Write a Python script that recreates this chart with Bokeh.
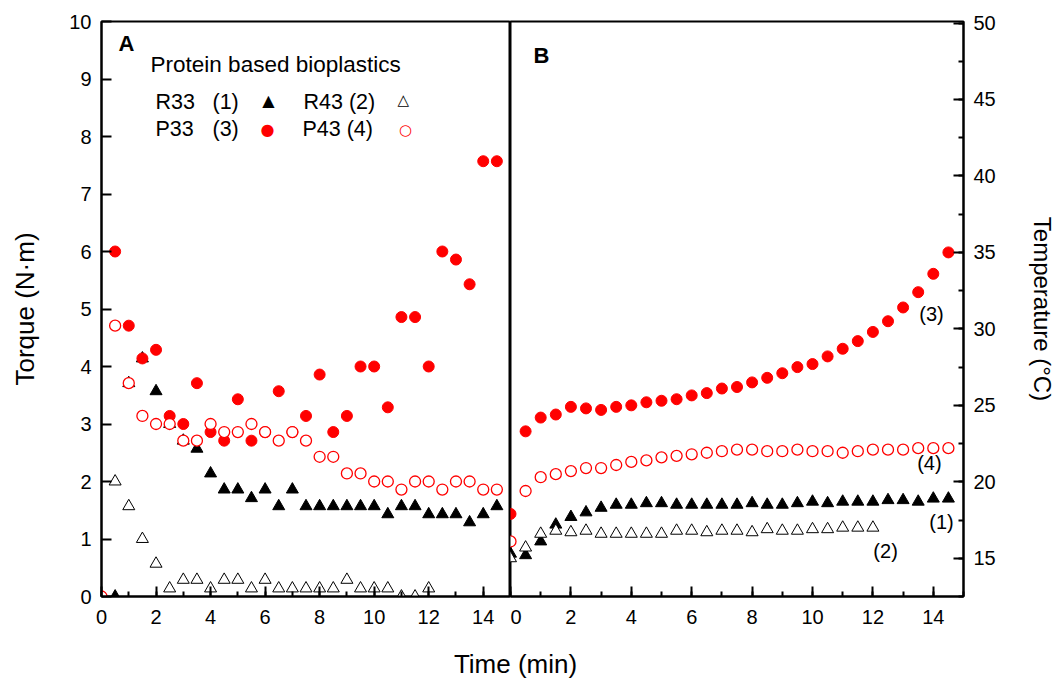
from bokeh.plotting import figure
from bokeh.models import Range1d, SingleIntervalTicker, Label
from bokeh.layouts import row, column
from bokeh.embed import file_html
from bokeh.resources import INLINE
from bokeh.core.properties import value

FONT = "Liberation Sans"
SYM_FONT = "DejaVu Sans"
RED = "#ff0000"

# ---------------- Panel A : torque (N·m) vs time (min) ----------------
tA_R33 = [0.5, 1, 1.5, 2, 2.5, 3, 3.5, 4, 4.5, 5, 5.5, 6, 6.5, 7, 7.5, 8, 8.5, 9, 9.5, 10,
          10.5, 11, 11.5, 12, 12.5, 13, 13.5, 14, 14.5]
R33_A = [0.0, 3.71, 4.14, 3.57, 3.0, 2.71, 2.57, 2.14, 1.86, 1.86, 1.71, 1.86, 1.57, 1.86, 1.57,
         1.57, 1.57, 1.57, 1.57, 1.57, 1.43, 1.57, 1.57, 1.43, 1.43, 1.43, 1.29, 1.43, 1.57]

tA_R43 = [0.5, 1, 1.5, 2, 2.5, 3, 3.5, 4, 4.5, 5, 5.5, 6, 6.5, 7, 7.5, 8, 8.5, 9, 9.5, 10,
          10.5, 11, 11.5, 12]
R43_A = [2.0, 1.57, 1.0, 0.57, 0.14, 0.29, 0.29, 0.14, 0.29, 0.29, 0.14, 0.29, 0.14, 0.14, 0.14,
         0.14, 0.14, 0.29, 0.14, 0.14, 0.14, 0.0, 0.0, 0.14]

tA_P33 = [0.5, 1, 1.5, 2, 2.5, 3, 3.5, 4, 4.5, 5, 5.5, 6, 6.5, 7, 7.5, 8, 8.5, 9, 9.5, 10,
          10.5, 11, 11.5, 12, 12.5, 13, 13.5, 14, 14.5]
P33_A = [6.0, 4.71, 4.14, 4.29, 3.14, 3.0, 3.71, 2.86, 2.71, 3.43, 2.71, 2.86, 3.57, 2.86, 3.14,
         3.86, 2.86, 3.14, 4.0, 4.0, 3.29, 4.86, 4.86, 4.0, 6.0, 5.86, 5.43, 7.57, 7.57]

tA_P43 = [0, 0.5, 1, 1.5, 2, 2.5, 3, 3.5, 4, 4.5, 5, 5.5, 6, 6.5, 7, 7.5, 8, 8.5, 9, 9.5, 10,
          10.5, 11, 11.5, 12, 12.5, 13, 13.5, 14, 14.5]
P43_A = [0.0, 4.71, 3.71, 3.14, 3.0, 3.0, 2.71, 2.71, 3.0, 2.86, 2.86, 3.0, 2.86, 2.71, 2.86, 2.71,
         2.43, 2.43, 2.14, 2.14, 2.0, 2.0, 1.86, 2.0, 2.0, 1.86, 2.0, 2.0, 1.86, 1.86]

# ---------------- Panel B : temperature (°C) vs time (min) ----------------
tB = [0, 0.5, 1, 1.5, 2, 2.5, 3, 3.5, 4, 4.5, 5, 5.5, 6, 6.5, 7, 7.5, 8, 8.5, 9, 9.5, 10,
      10.5, 11, 11.5, 12, 12.5, 13, 13.5, 14, 14.5]
P33_B = [17.9, 23.3, 24.2, 24.4, 24.9, 24.8, 24.7, 24.9, 25.0, 25.2, 25.3, 25.4, 25.65, 25.8, 26.1,
         26.2, 26.5, 26.8, 27.1, 27.5, 27.7, 28.2, 28.7, 29.2, 29.8, 30.5, 31.4, 32.4, 33.6, 35.0]
P43_B = [16.1, 19.4, 20.3, 20.5, 20.7, 20.9, 20.9, 21.1, 21.3, 21.4, 21.6, 21.7, 21.8, 21.9, 22.0,
         22.1, 22.1, 22.0, 22.0, 22.1, 22.0, 22.0, 21.9, 22.0, 22.1, 22.1, 22.1, 22.2, 22.2, 22.2]
R33_B = [15.3, 15.2, 16.1, 17.2, 17.7, 18.0, 18.3, 18.5, 18.5, 18.6, 18.6, 18.5, 18.5, 18.5, 18.5,
         18.5, 18.6, 18.5, 18.5, 18.6, 18.7, 18.6, 18.7, 18.7, 18.7, 18.8, 18.8, 18.7, 18.9, 18.9]
tB_R43 = [0, 0.5, 1, 1.5, 2, 2.5, 3, 3.5, 4, 4.5, 5, 5.5, 6, 6.5, 7, 7.5, 8, 8.5, 9, 9.5, 10,
          10.5, 11, 11.5, 12]
R43_B = [15.0, 15.7, 16.6, 16.8, 16.7, 16.8, 16.6, 16.6, 16.6, 16.6, 16.6, 16.8, 16.8, 16.7, 16.8,
         16.8, 16.7, 16.9, 16.8, 16.8, 16.9, 16.9, 17.0, 17.0, 17.0]

TICK_FS = "20px"
TITLE_FS = "26px"


def style_axis(ax):
    ax.axis_line_width = 2
    ax.axis_line_color = "black"
    ax.major_tick_in = 10
    ax.major_tick_out = 0
    ax.minor_tick_in = 5
    ax.minor_tick_out = 0
    ax.major_tick_line_width = 2
    ax.minor_tick_line_width = 2
    ax.major_tick_line_color = "black"
    ax.minor_tick_line_color = "black"
    ax.major_label_text_font = FONT
    ax.major_label_text_color = "black"
    ax.major_label_text_font_size = TICK_FS
    ax.major_label_standoff = 10
    ax.axis_label_text_font = FONT
    ax.axis_label_text_font_style = "normal"
    ax.axis_label_text_font_size = TITLE_FS
    ax.axis_label_text_color = "black"


# ---------- figure A ----------
pA = figure(x_range=Range1d(0, 15), y_range=Range1d(0, 10),
            frame_width=409, frame_height=575,
            min_border_left=101, min_border_right=0, min_border_top=21, min_border_bottom=40,
            output_backend="svg", toolbar_location=None)
pA.grid.visible = False
pA.outline_line_color = "black"
pA.outline_line_width = 2
pA.xaxis.ticker = SingleIntervalTicker(interval=2, num_minor_ticks=2)
pA.yaxis.ticker = SingleIntervalTicker(interval=1, num_minor_ticks=0)
style_axis(pA.xaxis[0])
style_axis(pA.yaxis[0])
pA.xaxis.major_label_standoff = 13
pA.yaxis.axis_label = "Torque (N·m)"
pA.yaxis.axis_label_standoff = 26

pA.scatter(tA_R33, R33_A, marker="triangle", size=12, fill_color="black", line_color="black")
pA.scatter(tA_R43, R43_A, marker="triangle", size=12, fill_color="white", line_color="black",
           line_width=1)
pA.scatter(tA_P33, P33_A, marker="circle", size=11, fill_color=RED, line_color=RED)
pA.scatter(tA_P43, P43_A, marker="circle", size=11, fill_color="white", line_color=RED,
           line_width=1.3)


def lab(p, x, y, text, size="21.5px", color="black", align="left", bold=False, font=FONT):
    p.add_layout(Label(x=x, y=y, text=text, text_font=font, text_font_size=size,
                       text_color=color, text_align=align, text_baseline="middle",
                       text_font_style="bold" if bold else "normal"))


lab(pA, 0.62, 9.62, "A", size="22px", bold=True)
lab(pA, 1.80, 9.26, "Protein based bioplastics", size="22.5px")
lab(pA, 1.98, 8.60, "R33")
lab(pA, 4.07, 8.60, "(1)")
lab(pA, 6.12, 8.63, "▲", size="16px", align="center", font=SYM_FONT)
lab(pA, 7.41, 8.60, "R43 (2)")
lab(pA, 11.07, 8.63, "△", size="15px", align="center", font=SYM_FONT)
lab(pA, 1.98, 8.13, "P33")
lab(pA, 4.07, 8.13, "(3)")
lab(pA, 6.09, 8.12, "●", size="16px", color=RED, align="center", font=SYM_FONT)
lab(pA, 7.37, 8.13, "P43 (4)")
lab(pA, 11.15, 8.12, "○", size="15px", color=RED, align="center", font=SYM_FONT)

# ---------- figure B ----------
pB = figure(x_range=Range1d(0, 15), y_range=Range1d(12.5, 50.1),
            frame_width=453, frame_height=575, y_axis_location="right",
            min_border_left=0, min_border_right=88, min_border_top=21, min_border_bottom=40,
            output_backend="svg", toolbar_location=None)
pB.grid.visible = False
pB.outline_line_color = "black"
pB.outline_line_width = 2
pB.xaxis.ticker = SingleIntervalTicker(interval=2, num_minor_ticks=2)
pB.yaxis.ticker = SingleIntervalTicker(interval=5, num_minor_ticks=2)
style_axis(pB.xaxis[0])
style_axis(pB.yaxis[0])
pB.xaxis.major_label_standoff = 13
pB.yaxis.axis_label = "Temperature (°C)"
pB.yaxis.axis_label_text_font_size = "24px"
pB.yaxis.axis_label_standoff = 30

pB.scatter(tB, R33_B, marker="triangle", size=12, fill_color="black", line_color="black")
pB.scatter(tB_R43, R43_B, marker="triangle", size=12, fill_color="white", line_color="black",
           line_width=1)
pB.scatter(tB, P33_B, marker="circle", size=11, fill_color=RED, line_color=RED)
pB.scatter(tB, P43_B, marker="circle", size=11, fill_color="white", line_color=RED,
           line_width=1.3)

lab(pB, 0.76, 47.9, "B", size="22px", bold=True)
lab(pB, 13.94, 31.0, "(3)", size="20px", align="center")
lab(pB, 13.87, 21.26, "(4)", size="20px", align="center")
lab(pB, 14.27, 17.34, "(1)", size="20px", align="center")
lab(pB, 12.42, 15.5, "(2)", size="20px", align="center")

# ---------- shared x-axis title ----------
W = 101 + 409 + 453 + 88
H = 44
pC = figure(x_range=Range1d(0, W), y_range=Range1d(0, H), width=W, height=H,
            min_border=0, output_backend="svg", toolbar_location=None,
            x_axis_location=None, y_axis_location=None)
pC.grid.visible = False
pC.outline_line_color = None
pC.text(x=[515], y=[H - 27], text=["Time (min)"], text_font=value(FONT), text_font_size=TITLE_FS,
        text_align="center", text_baseline="middle", text_color="black")

layout = column(row(pA, pB), pC)
open("out.html", "w").write(file_html(layout, INLINE))
